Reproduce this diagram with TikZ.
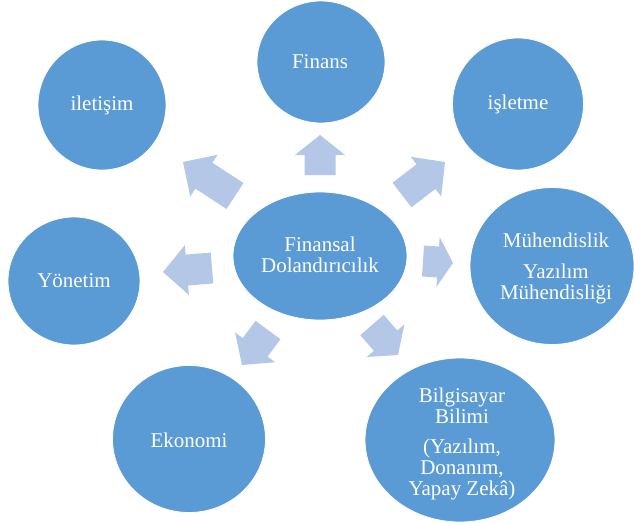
\documentclass[tikz,border=0pt]{standalone}
\usepackage{fontspec}
\setmainfont{Liberation Serif}
\usetikzlibrary{shapes.geometric,calc}
\definecolor{circ}{HTML}{5B9BD5}
\definecolor{arr}{HTML}{B4C7E7}
\tikzset{
  bubble/.style={ellipse, fill=circ, draw=white, line width=0.8pt, inner sep=0pt},
  lbl/.style={text=white, font=\fontsize{21}{21}\selectfont, align=center, inner sep=0pt},
  blockarrow/.style={fill=arr}
}
\newcommand\barrow[3]{% tail, tip, head length
  \coordinate (hb) at ($(#2)!#3!(#1)$);
  \fill[blockarrow] ($(#1)!15.5pt!90:(#2)$) -- ($(hb)!15.5pt!90:(#2)$) -- ($(hb)!25pt!90:(#2)$) -- (#2)
    -- ($(hb)!25pt!-90:(#2)$) -- ($(hb)!15.5pt!-90:(#2)$) -- ($(#1)!15.5pt!-90:(#2)$) -- cycle;}
\begin{document}
\begin{tikzpicture}[x=1pt,y=-1pt]
\useasboundingbox (0,0) rectangle (634,522);
% circles
\node[bubble, minimum width=174pt, minimum height=128pt] (center) at (320,256) {};
\node[bubble, minimum width=128pt, minimum height=122pt] (finans) at (321,62) {};
\node[bubble, minimum width=128pt, minimum height=130pt] (iletisim) at (102,105) {};
\node[bubble, minimum width=131pt, minimum height=132pt] (isletme) at (518,104) {};
\node[bubble, minimum width=164pt, minimum height=157pt] (muh) at (552,266) {};
\node[bubble, minimum width=132pt, minimum height=128pt] (yonetim) at (74,281) {};
\node[bubble, minimum width=153pt, minimum height=147pt] (ekonomi) at (189,439) {};
\node[bubble, minimum width=190pt, minimum height=164pt] (bilg) at (460,440) {};
% labels
\node[lbl] (tcenter) at (320,255) {Finansal\\Dolandırıcılık};
\node[lbl] (tfinans) at (320,62) {Finans};
\node[lbl] (tiletisim) at (102,105) {iletişim};
\node[lbl] (tisletme) at (518,104) {işletme};
\node[lbl] (tmuh) at (556,268) {Mühendislik\\[10pt]Yazılım\\Mühendisliği};
\node[lbl] (tyonetim) at (74,281) {Yönetim};
\node[lbl] (tekonomi) at (189,440) {Ekonomi};
\node[lbl] (tbilg) at (462,444) {Bilgisayar\\Bilimi\\[9pt](Yazılım,\\Donanım,\\Yapay Zekâ)};
% arrows
\coordinate (a1t) at (320,175); \coordinate (a1h) at (320,135);
\coordinate (a2t) at (402,195); \coordinate (a2h) at (445,162);
\coordinate (a3t) at (423,261); \coordinate (a3h) at (453,263);
\coordinate (a4t) at (372,325); \coordinate (a4h) at (398,355);
\coordinate (a5t) at (268,330); \coordinate (a5h) at (242,365);
\coordinate (a6t) at (212,268); \coordinate (a6h) at (163,272);
\coordinate (a7t) at (235,196); \coordinate (a7h) at (183,162);
\barrow{a1t}{a1h}{20pt}
\barrow{a2t}{a2h}{24pt}
\barrow{a3t}{a3h}{15pt}
\barrow{a4t}{a4h}{19pt}
\barrow{a5t}{a5h}{22pt}
\barrow{a6t}{a6h}{24pt}
\barrow{a7t}{a7h}{25pt}
\end{tikzpicture}
\end{document}
